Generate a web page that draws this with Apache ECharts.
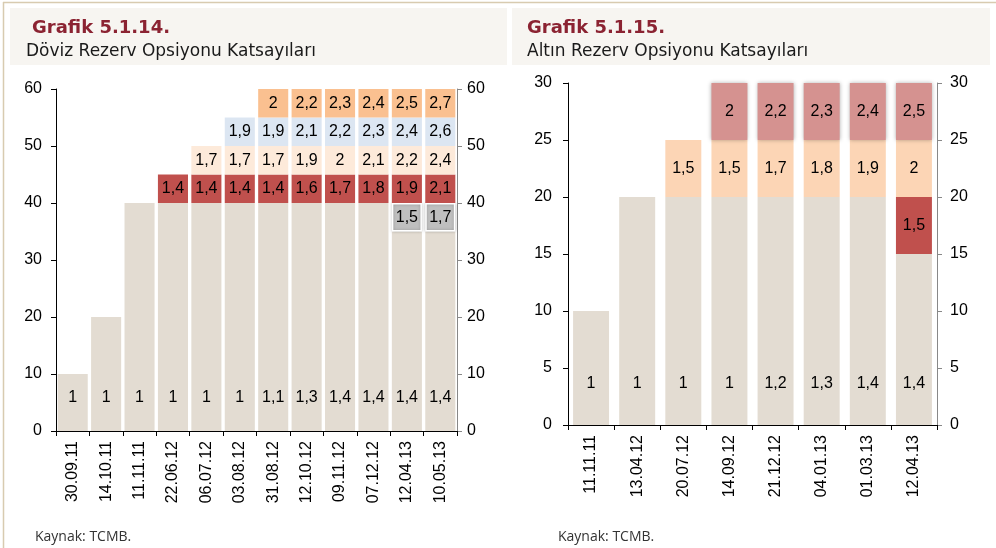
<!DOCTYPE html>
<html>
<head>
<meta charset="utf-8">
<script src="https://cdn.jsdelivr.net/npm/echarts@6/dist/echarts.min.js"></script>
<style>
  html, body { margin: 0; padding: 0; background: #fff; }
  #chart { width: 996px; height: 548px; }
</style>
</head>
<body>
<div id="chart"></div>
<script>
// Grafik 5.1.14 - Döviz (each tranche is 5 units; beige is the first tranche block)
const dovizCats = ['30.09.11', '14.10.11', '11.11.11', '22.06.12', '06.07.12', '03.08.12',
  '31.08.12', '12.10.12', '09.11.12', '07.12.12', '12.04.13', '10.05.13']
const dovizBeigeH = [10, 20, 40, 40, 40, 40, 40, 40, 40, 40, 35, 35]
const dovizGrayH = ['-', '-', '-', '-', '-', '-', '-', '-', '-', '-', 5, 5]
const dovizRedH = ['-', '-', '-', 5, 5, 5, 5, 5, 5, 5, 5, 5]
const dovizPeachH = ['-', '-', '-', '-', 5, 5, 5, 5, 5, 5, 5, 5]
const dovizBlueH = ['-', '-', '-', '-', '-', 5, 5, 5, 5, 5, 5, 5]
const dovizOrangeH = ['-', '-', '-', '-', '-', '-', 5, 5, 5, 5, 5, 5]

const dovizBeigeK = [1, 1, 1, 1, 1, 1, 1.1, 1.3, 1.4, 1.4, 1.4, 1.4]
const dovizGrayK = [null, null, null, null, null, null, null, null, null, null, 1.5, 1.7]
const dovizRedK = [null, null, null, 1.4, 1.4, 1.4, 1.4, 1.6, 1.7, 1.8, 1.9, 2.1]
const dovizPeachK = [null, null, null, null, 1.7, 1.7, 1.7, 1.9, 2, 2.1, 2.2, 2.4]
const dovizBlueK = [null, null, null, null, null, 1.9, 1.9, 2.1, 2.2, 2.3, 2.4, 2.6]
const dovizOrangeK = [null, null, null, null, null, null, 2, 2.2, 2.3, 2.4, 2.5, 2.7]

// Grafik 5.1.15 - Altın
const altinCats = ['11.11.11', '13.04.12', '20.07.12', '14.09.12', '21.12.12', '04.01.13', '01.03.13', '12.04.13']
const altinBeigeH = [10, 20, 20, 20, 20, 20, 20, 15]
const altinRedH = ['-', '-', '-', '-', '-', '-', '-', 5]
const altinPeachH = ['-', '-', 5, 5, 5, 5, 5, 5]
const altinPinkH = ['-', '-', '-', 5, 5, 5, 5, 5]

const altinBeigeK = [1, 1, 1, 1, 1.2, 1.3, 1.4, 1.4]
const altinRedK = [null, null, null, null, null, null, null, 1.5]
const altinPeachK = [null, null, 1.5, 1.5, 1.7, 1.8, 1.9, 2]
const altinPinkK = [null, null, null, 2, 2.2, 2.3, 2.4, 2.5]

const axisFont = 'Liberation Sans'
const fmt = v => String(v).replace('.', ',')

const makeSeries = (name, grid, heights, coefs, color, extra) => {
  return Object.assign({
    name: name,
    type: 'bar',
    stack: 'g' + grid,
    xAxisIndex: grid,
    yAxisIndex: grid * 2,
    data: heights,
    itemStyle: { color: color },
    label: {
      show: true,
      position: 'inside',
      color: '#000',
      fontFamily: axisFont,
      fontSize: 16,
      formatter: p => coefs[p.dataIndex] == null ? '' : fmt(coefs[p.dataIndex])
    },
    animation: false
  }, extra || {})
}

const chart = echarts.init(document.getElementById('chart'))

const yAxisBase = (grid, side, max, interval, lineColor, margin) => ({
  type: 'value',
  gridIndex: grid,
  position: side,
  min: 0,
  max: max,
  interval: interval,
  splitLine: { show: false },
  axisLine: { show: true, lineStyle: { color: lineColor, width: 1 } },
  axisTick: { show: true, length: 5, lineStyle: { color: lineColor } },
  axisLabel: { color: '#000', fontFamily: axisFont, fontSize: 16, margin: margin }
})

const xAxisBase = (grid, cats) => ({
  type: 'category',
  gridIndex: grid,
  data: cats,
  axisLine: { lineStyle: { color: '#000' } },
  axisTick: { show: true, length: 5, lineStyle: { color: '#000' } },
  axisLabel: { rotate: 90, color: '#000', fontFamily: axisFont, fontSize: 16, margin: 10, interval: 0 }
})

chart.setOption({
  backgroundColor: '#fff',
  animation: false,
  graphic: [
    { type: 'line', shape: { x1: 3, y1: 2.5, x2: 996, y2: 2.5 }, style: { stroke: '#D8CBB0', lineWidth: 1.5 } },
    { type: 'line', shape: { x1: 3.5, y1: 2, x2: 3.5, y2: 548 }, style: { stroke: '#D8CBB0', lineWidth: 1.5 } },
    { type: 'rect', shape: { x: 10, y: 8, width: 497, height: 57 }, style: { fill: '#F7F5F1' } },
    { type: 'rect', shape: { x: 512, y: 8, width: 478, height: 57 }, style: { fill: '#F7F5F1' } },
    { type: 'text', x: 32, y: 19, style: { text: 'Grafik 5.1.14.', fill: '#8B2332', font: 'bold 18px "DejaVu Sans"' } },
    { type: 'text', x: 26, y: 43, style: { text: 'Döviz Rezerv Opsiyonu Katsayıları', fill: '#1a1a1a', font: '17px "DejaVu Sans"' } },
    { type: 'text', x: 527, y: 19, style: { text: 'Grafik 5.1.15.', fill: '#8B2332', font: 'bold 18px "DejaVu Sans"' } },
    { type: 'text', x: 527, y: 43, style: { text: 'Altın Rezerv Opsiyonu Katsayıları', fill: '#1a1a1a', font: '17px "DejaVu Sans"' } },
    { type: 'text', x: 35, y: 530, style: { text: 'Kaynak: TCMB.', fill: '#333', font: '14px "Open Sans"' } },
    { type: 'text', x: 558, y: 530, style: { text: 'Kaynak: TCMB.', fill: '#333', font: '14px "Open Sans"' } }
  ],
  grid: [
    { left: 56, top: 89, width: 401, height: 342 },
    { left: 568, top: 83, width: 369, height: 342 }
  ],
  xAxis: [xAxisBase(0, dovizCats), xAxisBase(1, altinCats)],
  yAxis: [
    yAxisBase(0, 'left', 60, 10, '#000', 14),
    yAxisBase(0, 'right', 60, 10, '#888', 10),
    yAxisBase(1, 'left', 30, 5, '#000', 16),
    yAxisBase(1, 'right', 30, 5, '#888', 13)
  ],
  series: [
    makeSeries('Tranş 1', 0, dovizBeigeH, dovizBeigeK, '#E3DCD2', {
      barCategoryGap: '10%',
      label: {
        show: true, position: 'insideBottom', distance: 25, color: '#000',
        fontFamily: axisFont, fontSize: 16,
        formatter: p => fmt(dovizBeigeK[p.dataIndex])
      }
    }),
    makeSeries('Gri', 0, dovizGrayH, dovizGrayK, '#BFBFBF', {
      itemStyle: { color: '#BFBFBF', borderColor: '#fff', borderWidth: 1.5, shadowBlur: 3, shadowColor: 'rgba(0,0,0,0.25)' }
    }),
    makeSeries('Kırmızı', 0, dovizRedH, dovizRedK, '#C0504D'),
    makeSeries('Şeftali', 0, dovizPeachH, dovizPeachK, '#FDEADA'),
    makeSeries('Mavi', 0, dovizBlueH, dovizBlueK, '#DCE6F2'),
    makeSeries('Turuncu', 0, dovizOrangeH, dovizOrangeK, '#FAC090'),

    makeSeries('Tranş 1', 1, altinBeigeH, altinBeigeK, '#E3DCD2', {
      barCategoryGap: '22%',
      label: {
        show: true, position: 'insideBottom', distance: 33, color: '#000',
        fontFamily: axisFont, fontSize: 16,
        formatter: p => fmt(altinBeigeK[p.dataIndex])
      }
    }),
    makeSeries('Kırmızı', 1, altinRedH, altinRedK, '#C0504D'),
    makeSeries('Şeftali', 1, altinPeachH, altinPeachK, '#FCD5B5'),
    makeSeries('Pembe', 1, altinPinkH, altinPinkK, '#D59290', {
      itemStyle: { color: '#D59290', shadowBlur: 4, shadowColor: 'rgba(0,0,0,0.3)' }
    })
  ]
})
</script>
</body>
</html>
